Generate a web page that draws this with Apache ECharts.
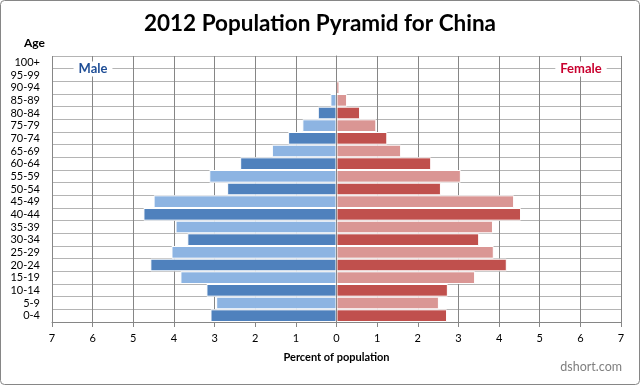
<!DOCTYPE html>
<html>
<head>
<meta charset="utf-8">
<script src="https://cdn.jsdelivr.net/npm/echarts@6/dist/echarts.min.js"></script>
<style>html,body{margin:0;padding:0;background:#fff;}#c{width:640px;height:385px;}</style>
</head>
<body>
<div id="c"></div>
<script>
// Categories bottom to top
var ageGroups = ['0-4','5-9','10-14','15-19','20-24','25-29','30-34','35-39','40-44','45-49','50-54','55-59','60-64','65-69','70-74','75-79','80-84','85-89','90-94','95-99','100+'];
// Percent of population (male shown to the left)
var maleValues = [3.10, 2.96, 3.20, 3.84, 4.58, 4.06, 3.67, 3.96, 4.75, 4.50, 2.69, 3.13, 2.37, 1.59, 1.19, 0.84, 0.46, 0.15, 0.02, 0.00, 0.00];
var femaleValues = [2.72, 2.52, 2.74, 3.41, 4.19, 3.87, 3.51, 3.85, 4.54, 4.37, 2.57, 3.06, 2.33, 1.59, 1.25, 0.98, 0.58, 0.26, 0.07, 0.01, 0.00];
var xTicks = [-7,-6,-5,-4,-3,-2,-1,0,1,2,3,4,5,6,7];

var FONT = 'Lato, "Open Sans", sans-serif';
var maleDark = '#4F81BD', maleLight = '#8DB4E2';
var femDark = '#C0504D', femLight = '#DA9694';

var maleData = maleValues.map(function (v, i) {
  return { value: -v, itemStyle: { color: i % 2 === 0 ? maleDark : maleLight } };
});
var femData = femaleValues.map(function (v, i) {
  return { value: v, itemStyle: { color: i % 2 === 0 ? femDark : femLight } };
});

var chart = echarts.init(document.getElementById('c'), null, { renderer: 'canvas' });
chart.setOption({
  animation: false,
  backgroundColor: '#fff',
  title: {
    text: '2012 Population Pyramid for China',
    left: 'center', top: 7,
    textStyle: { fontFamily: FONT, fontWeight: 'bold', fontSize: 22.5, color: '#000' }
  },
  grid: { left: 52, right: 19, top: 56, bottom: 63, containLabel: false },
  xAxis: {
    type: 'value', min: xTicks[0], max: xTicks[xTicks.length - 1], interval: 1,
    name: 'Percent of population', nameLocation: 'middle', nameGap: 30,
    nameTextStyle: { fontFamily: FONT, fontWeight: 'bold', fontSize: 11, color: '#000' },
    axisLine: { show: true, lineStyle: { color: '#868686', width: 1 } },
    axisTick: { show: true, length: 5, lineStyle: { color: '#868686' } },
    axisLabel: {
      margin: 11, fontFamily: FONT, fontSize: 11, color: '#000',
      formatter: function (v) { return String(Math.abs(v)); }
    },
    splitLine: { show: true, lineStyle: { color: '#868686', width: 1 } }
  },
  yAxis: [
    {
      type: 'category', data: ageGroups, position: 'left',
      axisLine: { show: false, onZero: false },
      axisTick: { show: false },
      axisLabel: { interval: 0, margin: 12, fontFamily: FONT, fontSize: 11, color: '#000' },
      splitLine: { show: true, interval: 0, lineStyle: { color: '#B4B4B4', width: 1 } }
    },
    {
      type: 'category', data: ageGroups, z: 10,
      axisLine: { show: true, onZero: true, lineStyle: { color: '#868686', width: 1 } },
      axisTick: { show: false },
      axisLabel: { show: false },
      splitLine: { show: false }
    }
  ],
  series: [
    {
      name: 'Male', type: 'bar', stack: 'pop', data: maleData,
      barCategoryGap: '0%',
      itemStyle: { borderColor: '#fff', borderWidth: 1 }
    },
    {
      name: 'Female', type: 'bar', stack: 'pop', data: femData,
      barCategoryGap: '0%',
      itemStyle: { borderColor: '#fff', borderWidth: 1 }
    }
  ],
  graphic: [
    { type: 'rect', z: -10, shape: { x: 0.5, y: 0.5, width: 639, height: 384, r: 4 },
      style: { fill: 'none', stroke: '#868686', lineWidth: 1 } },
    { type: 'text', left: 24, top: 37, z: 100,
      style: { text: 'Age', fontFamily: FONT, fontWeight: 'bold', fontSize: 12, fill: '#000' } },
    { type: 'text', x: 93, y: 69, z: 100,
      style: { text: 'Male', align: 'center', verticalAlign: 'middle', fontFamily: FONT, fontWeight: 'bold', fontSize: 13,
        fill: '#1F4E96', backgroundColor: '#fff', padding: [1, 5] } },
    { type: 'text', x: 581, y: 69, z: 100,
      style: { text: 'Female', align: 'center', verticalAlign: 'middle', fontFamily: FONT, fontWeight: 'bold', fontSize: 13,
        fill: '#C8002E', backgroundColor: '#fff', padding: [1, 5] } },
    { type: 'text', right: 18, top: 360, z: 100,
      style: { text: 'dshort.com', fontFamily: FONT, fontSize: 12.5, fill: '#7F7F7F' } }
  ]
});
</script>
</body>
</html>
